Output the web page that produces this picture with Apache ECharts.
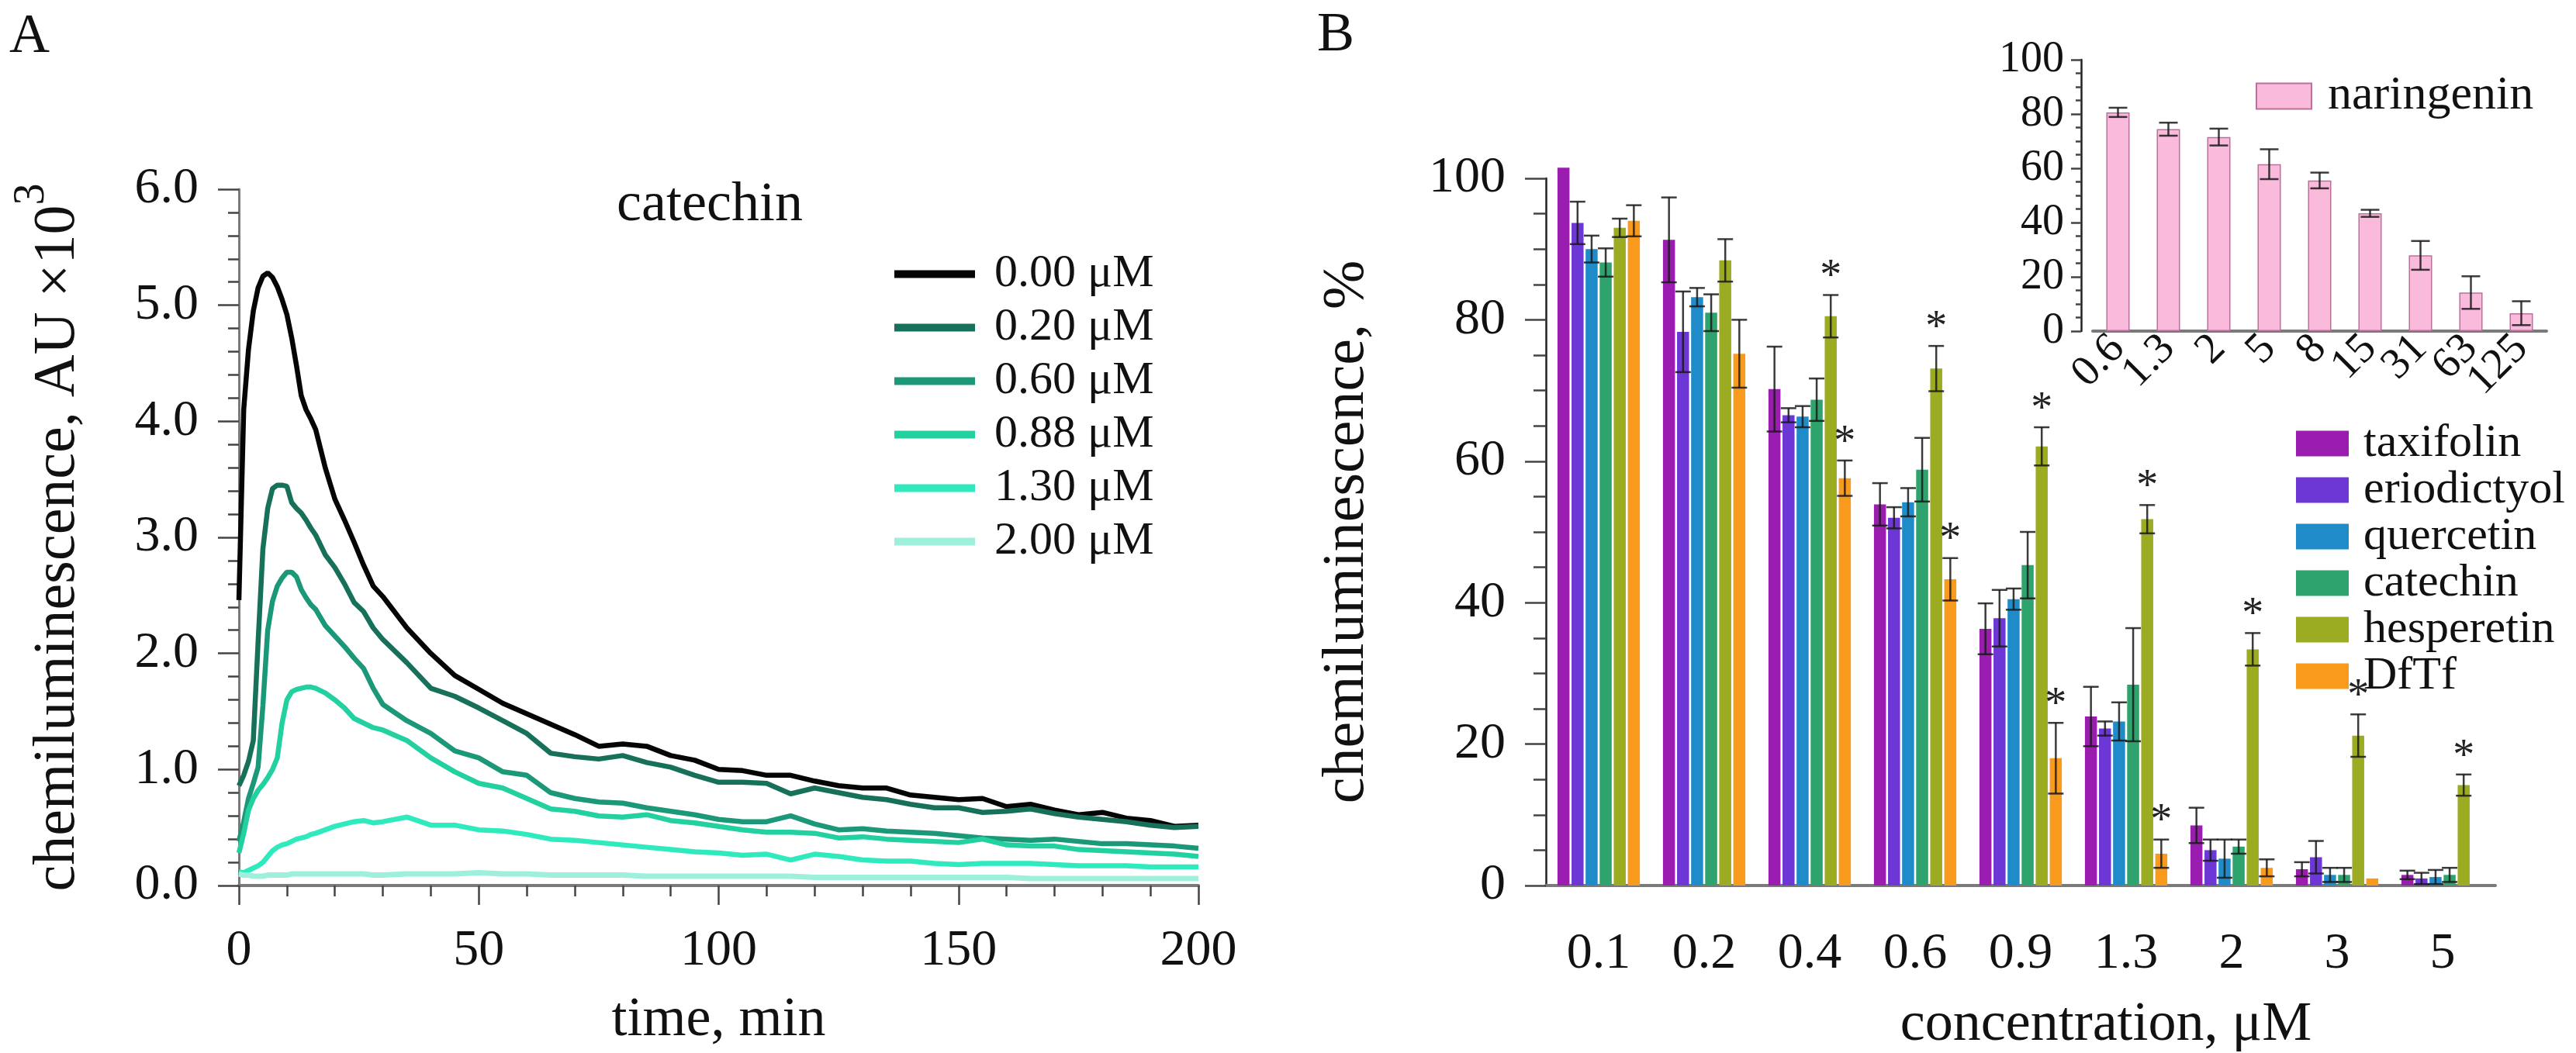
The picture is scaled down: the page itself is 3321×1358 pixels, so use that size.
<!DOCTYPE html>
<html>
<head>
<meta charset="utf-8">
<title>catechin chemiluminescence</title>
<script src="https://cdn.jsdelivr.net/npm/echarts@6/dist/echarts.min.js"></script>
<style>
  html, body { margin: 0; padding: 0; background: #fff; }
  #chart { width: 3321px; height: 1358px; }
</style>
</head>
<body>
<div id="chart"></div>
<script>
// ---- panel A: kinetics, catechin ----
const minutes = [0, 1, 2, 3, 4, 5, 6, 7, 8, 9, 10, 11, 12, 13, 14, 15, 16, 18, 20, 22, 24, 26, 28, 30,
  35, 40, 45, 50, 55, 60, 65, 70, 75, 80, 85, 90, 95, 100, 105, 110, 115, 120, 125, 130, 135, 140,
  145, 150, 155, 160, 165, 170, 175, 180, 185, 190, 195, 200];

const curveNames = ['0.00 μM', '0.20 μM', '0.60 μM', '0.88 μM', '1.30 μM', '2.00 μM'];
const curveColors = ['#050505', '#17715a', '#1a9877', '#22d0a0', '#2eeabd', '#9ef0dc'];

const curve000 = [2.46, 4.10, 4.62, 4.95, 5.15, 5.25, 5.28, 5.24, 5.16, 5.05, 4.92, 4.72, 4.48, 4.22, 4.10, 4.02, 3.93,
  3.60, 3.33, 3.15, 2.96, 2.76, 2.58, 2.49,
  2.22, 2.00, 1.81, 1.69, 1.57, 1.48, 1.39, 1.30, 1.20, 1.22, 1.20, 1.12, 1.08, 1.00, 0.99, 0.95, 0.95, 0.90,
  0.86, 0.84, 0.84, 0.78, 0.76, 0.74, 0.75, 0.68, 0.70, 0.65, 0.61, 0.63, 0.58, 0.56, 0.51, 0.52];
const curve020 = [0.86, 0.95, 1.07, 1.25, 2.10, 2.90, 3.25, 3.42, 3.45, 3.45, 3.44, 3.30, 3.25, 3.21, 3.15, 3.08, 3.02,
  2.85, 2.74, 2.60, 2.44, 2.36, 2.22, 2.12,
  1.92, 1.70, 1.63, 1.53, 1.42, 1.31, 1.14, 1.11, 1.09, 1.12, 1.06, 1.02, 0.95, 0.89, 0.89, 0.88, 0.79, 0.84,
  0.80, 0.76, 0.74, 0.70, 0.67, 0.67, 0.63, 0.64, 0.66, 0.62, 0.59, 0.57, 0.55, 0.52, 0.50, 0.51];
const curve060 = [0.38, 0.55, 0.75, 0.88, 1.02, 1.55, 2.20, 2.45, 2.58, 2.65, 2.70, 2.70, 2.66, 2.55, 2.48, 2.42, 2.38,
  2.24, 2.15, 2.06, 1.96, 1.87, 1.70, 1.56,
  1.42, 1.31, 1.16, 1.10, 0.98, 0.95, 0.80, 0.75, 0.72, 0.71, 0.67, 0.64, 0.61, 0.57, 0.55, 0.55, 0.60, 0.53,
  0.48, 0.49, 0.47, 0.46, 0.45, 0.43, 0.41, 0.40, 0.39, 0.40, 0.38, 0.36, 0.36, 0.35, 0.34, 0.32];
const curve088 = [0.28, 0.45, 0.65, 0.75, 0.82, 0.87, 0.93, 1.00, 1.10, 1.40, 1.60, 1.67, 1.69, 1.70, 1.71, 1.71, 1.70,
  1.66, 1.60, 1.53, 1.44, 1.40, 1.36, 1.34,
  1.25, 1.10, 0.98, 0.88, 0.84, 0.75, 0.66, 0.64, 0.60, 0.59, 0.61, 0.56, 0.54, 0.51, 0.48, 0.46, 0.46, 0.45,
  0.41, 0.42, 0.40, 0.39, 0.38, 0.37, 0.40, 0.35, 0.34, 0.34, 0.31, 0.30, 0.29, 0.28, 0.27, 0.25];
const curve130 = [0.12, 0.11, 0.13, 0.15, 0.17, 0.20, 0.25, 0.30, 0.33, 0.35, 0.36, 0.38, 0.40, 0.41, 0.42, 0.44, 0.45,
  0.48, 0.51, 0.53, 0.55, 0.56, 0.54, 0.55,
  0.59, 0.52, 0.52, 0.48, 0.47, 0.44, 0.40, 0.39, 0.37, 0.35, 0.33, 0.31, 0.29, 0.28, 0.26, 0.27, 0.22, 0.27,
  0.25, 0.22, 0.21, 0.21, 0.19, 0.18, 0.19, 0.19, 0.19, 0.18, 0.17, 0.17, 0.17, 0.16, 0.16, 0.16];
const curve200 = [0.10, 0.09, 0.09, 0.08, 0.08, 0.08, 0.09, 0.09, 0.09, 0.09, 0.09, 0.10, 0.10, 0.10, 0.10, 0.10, 0.10,
  0.10, 0.10, 0.10, 0.10, 0.10, 0.09, 0.09,
  0.10, 0.10, 0.10, 0.11, 0.10, 0.10, 0.09, 0.09, 0.09, 0.09, 0.08, 0.08, 0.08, 0.08, 0.08, 0.08, 0.08, 0.07,
  0.07, 0.07, 0.07, 0.07, 0.07, 0.07, 0.07, 0.07, 0.06, 0.06, 0.06, 0.06, 0.06, 0.06, 0.06, 0.06];
const curves = [curve000, curve020, curve060, curve088, curve130, curve200];

// ---- panel B: % chemiluminescence vs concentration ----
const concLabels = ['0.1', '0.2', '0.4', '0.6', '0.9', '1.3', '2', '3', '5'];
const compoundNames = ['taxifolin', 'eriodictyol', 'quercetin', 'catechin', 'hesperetin', 'DfTf'];
const compoundColors = ['#9a1db0', '#6c37d4', '#1f8bc9', '#2fa36d', '#9bab22', '#f89a1c'];

const taxifolin = [101.5, 91.3, 70.2, 53.9, 36.3, 23.9, 8.5, 2.3, 1.5];
const taxifolinErr = [0, 6, 6, 3, 3.6, 4.2, 2.5, 1, 0.6];
const eriodictyol = [93.7, 78.3, 66.5, 52.0, 37.8, 22.2, 5.0, 4.0, 1.0];
const eriodictyolErr = [3, 5.7, 1, 1.5, 4, 1, 1.5, 2.3, 0.8];
const quercetin = [90.0, 83.2, 66.3, 54.2, 40.5, 23.2, 3.8, 1.5, 1.2];
const quercetinErr = [1.9, 1.3, 1.5, 2, 1.5, 2.7, 2.7, 1, 1];
const catechin = [88.1, 81.0, 68.7, 58.8, 45.3, 28.4, 5.5, 1.5, 1.5];
const catechinErr = [2, 2.6, 3, 4.5, 4.7, 8, 1, 1, 1];
const hesperetin = [93.0, 88.4, 80.5, 73.1, 62.1, 51.8, 33.4, 21.2, 14.2];
const hesperetinErr = [1.3, 3, 3, 3.2, 2.7, 2, 2.3, 3, 1.5];
const dftf = [94.0, 75.2, 57.6, 43.3, 18.0, 4.5, 2.5, 1.0, null];
const dftfErr = [2.2, 4.8, 2.5, 3, 5, 2, 1.2, 0, 0];
const hesperetinStar = [0, 0, 1, 1, 1, 1, 1, 1, 1];
const dftfStar = [0, 0, 1, 1, 1, 1, 0, 0, 0];
const noStar = [0, 0, 0, 0, 0, 0, 0, 0, 0];

const compoundValues = [taxifolin, eriodictyol, quercetin, catechin, hesperetin, dftf];
const compoundErrs = [taxifolinErr, eriodictyolErr, quercetinErr, catechinErr, hesperetinErr, dftfErr];
const compoundStars = [noStar, noStar, noStar, noStar, hesperetinStar, dftfStar];

// ---- inset: naringenin ----
const naringeninLabels = ['0.6', '1.3', '2', '5', '8', '15', '31', '63', '125'];
const naringenin = [80.6, 74.4, 71.5, 61.5, 55.5, 43.4, 27.9, 14.2, 6.6];
const naringeninErr = [1.7, 2.4, 3.1, 5.5, 2.9, 1.3, 5.3, 6, 4.4];

const FONT = "'Liberation Serif', 'Times New Roman', 'DejaVu Serif', serif";
const INK = '#111';
const BAR_W = 15.5;
const BAR_GAP = 0.17;

const chart = echarts.init(document.getElementById('chart'));

// error bars (+ optional star) drawn through the axis scales
function errorItem(offset, capHalf, flags) {
  return function (params, api) {
    const idx = api.value(0);
    const v = api.value(1);
    const e = api.value(2);
    const top = api.coord([idx, v + e]);
    const bot = api.coord([idx, v - e]);
    const x = top[0] + offset;
    const kids = [];
    const st = { stroke: '#1a1a1a', lineWidth: 2.5, opacity: 0.85 };
    if (e > 0) {
      kids.push({ type: 'line', shape: { x1: x, y1: top[1], x2: x, y2: bot[1] }, style: st });
      kids.push({ type: 'line', shape: { x1: x - capHalf, y1: top[1], x2: x + capHalf, y2: top[1] }, style: st });
      kids.push({ type: 'line', shape: { x1: x - capHalf, y1: bot[1], x2: x + capHalf, y2: bot[1] }, style: st });
    }
    if (flags && flags[idx]) {
      kids.push({
        type: 'text', x: x, y: top[1] - 22,
        style: { text: '*', fontSize: 56, fontFamily: FONT, fill: '#222', align: 'center', verticalAlign: 'middle' }
      });
    }
    return { type: 'group', children: kids };
  };
}

const series = [];

curves.forEach((vals, k) => {
  series.push({
    name: curveNames[k],
    type: 'line',
    xAxisIndex: 0, yAxisIndex: 0,
    data: minutes.map((t, i) => [t, vals[i]]),
    showSymbol: false, symbol: 'none',
    lineStyle: { color: curveColors[k], width: k === 5 ? 7 : 6.5 },
    itemStyle: { color: curveColors[k] },
    z: 2 + k
  });
});

compoundValues.forEach((vals, k) => {
  series.push({
    name: compoundNames[k],
    type: 'bar',
    xAxisIndex: 1, yAxisIndex: 1,
    data: vals,
    barWidth: BAR_W,
    barGap: (BAR_GAP * 100) + '%',
    clip: false,
    itemStyle: { color: compoundColors[k] },
    z: 2
  });
});

const step = BAR_W * (1 + BAR_GAP);
compoundValues.forEach((vals, k) => {
  const data = [];
  vals.forEach((v, i) => { if (v !== null) data.push([i, v, compoundErrs[k][i]]); });
  series.push({
    type: 'custom',
    xAxisIndex: 1, yAxisIndex: 1,
    renderItem: errorItem((k - 2.5) * step, 10, compoundStars[k]),
    data: data,
    encode: { x: 0, y: 1 },
    silent: true,
    z: 5
  });
});

series.push({
  name: 'naringenin',
  type: 'bar',
  xAxisIndex: 2, yAxisIndex: 2,
  data: naringenin,
  barWidth: 30,
  itemStyle: { color: '#f9badc', borderColor: '#b9719a', borderWidth: 1.5 },
  z: 2
});
series.push({
  type: 'custom',
  xAxisIndex: 2, yAxisIndex: 2,
  renderItem: errorItem(0, 12, null),
  data: naringenin.map((v, i) => [i, v, naringeninErr[i]]),
  encode: { x: 0, y: 1 },
  silent: true,
  z: 5
});

const tickStyle = { color: '#444', width: 2.5 };
const labelStyle = { fontFamily: FONT, fontSize: 66, color: INK };

const option = {
  backgroundColor: '#fff',
  animation: false,
  textStyle: { fontFamily: FONT },
  grid: [
    { left: 308, top: 244, width: 1237, height: 898 },
    { left: 1993, top: 230, width: 1224, height: 912 },
    { left: 2698, top: 77, width: 585, height: 350 }
  ],
  xAxis: [
    {
      type: 'value', gridIndex: 0, min: 0, max: 200, interval: 50,
      name: 'time, min', nameLocation: 'middle', nameGap: 138,
      nameTextStyle: { fontFamily: FONT, fontSize: 72, color: INK },
      axisLine: { lineStyle: { color: '#7a7a7a', width: 4 } },
      axisTick: { length: 25, lineStyle: tickStyle },
      minorTick: { show: true, splitNumber: 5, length: 14, lineStyle: tickStyle },
      axisLabel: Object.assign({ margin: 52 }, labelStyle),
      splitLine: { show: false }
    },
    {
      type: 'category', gridIndex: 1, data: concLabels,
      axisLine: { lineStyle: { color: '#7a7a7a', width: 4 } },
      axisTick: { alignWithLabel: true, length: 25, lineStyle: tickStyle },
      axisLabel: Object.assign({ margin: 56 }, labelStyle),
      splitLine: { show: false }
    },
    {
      type: 'category', gridIndex: 2, data: naringeninLabels,
      axisLine: { lineStyle: { color: '#7a7a7a', width: 4 } },
      axisTick: { alignWithLabel: true, length: 10, lineStyle: tickStyle },
      axisLabel: { fontFamily: FONT, fontSize: 56, color: INK, rotate: 45, margin: 14, interval: 0 },
      splitLine: { show: false }
    }
  ],
  yAxis: [
    {
      type: 'value', gridIndex: 0, min: 0, max: 6, interval: 1,
      name: '{a|chemiluminescence, AU ×10}{s|3}', nameLocation: 'middle', nameGap: 195,
      nameTextStyle: {
        fontFamily: FONT, color: INK,
        rich: {
          a: { fontFamily: FONT, fontSize: 76, lineHeight: 100, verticalAlign: 'bottom', color: INK },
          s: { fontFamily: FONT, fontSize: 56, lineHeight: 56, verticalAlign: 'top', color: INK }
        }
      },
      axisLine: { show: true, lineStyle: { color: '#7a7a7a', width: 3 } },
      axisTick: { show: true, length: 27, lineStyle: tickStyle },
      minorTick: { show: true, splitNumber: 5, length: 14, lineStyle: tickStyle },
      axisLabel: Object.assign({ margin: 52, formatter: v => v.toFixed(1) }, labelStyle),
      splitLine: { show: false }
    },
    {
      type: 'value', gridIndex: 1, min: 0, max: 100, interval: 20,
      name: 'chemiluminescence, %', nameLocation: 'middle', nameGap: 218,
      nameTextStyle: { fontFamily: FONT, fontSize: 76, color: INK },
      axisLine: { show: true, lineStyle: { color: '#222', width: 2.5 } },
      axisTick: { show: true, length: 27, lineStyle: tickStyle },
      minorTick: { show: true, splitNumber: 4, length: 16, lineStyle: tickStyle },
      axisLabel: Object.assign({ margin: 52 }, labelStyle),
      splitLine: { show: false }
    },
    {
      type: 'value', gridIndex: 2, min: 0, max: 100, interval: 20, offset: 15,
      axisLine: { show: true, lineStyle: { color: '#222', width: 2.5 } },
      axisTick: { show: true, length: 13, lineStyle: tickStyle },
      minorTick: { show: true, splitNumber: 4, length: 7, lineStyle: tickStyle },
      axisLabel: { fontFamily: FONT, fontSize: 56, color: INK, margin: 22 },
      splitLine: { show: false }
    }
  ],
  legend: [
    {
      data: curveNames, orient: 'vertical', left: 1148, top: 314,
      icon: 'rect', itemWidth: 104, itemHeight: 10, itemGap: 0,
      textStyle: { fontFamily: FONT, fontSize: 60, lineHeight: 69, color: INK, padding: [0, 0, 0, 20] }
    },
    {
      data: compoundNames, orient: 'vertical', left: 2955, top: 537,
      icon: 'rect', itemWidth: 68, itemHeight: 33, itemGap: 0,
      textStyle: { fontFamily: FONT, fontSize: 60, lineHeight: 56, color: INK, padding: [0, 0, 0, 14] }
    },
    {
      data: ['naringenin'], orient: 'vertical', left: 2903, top: 88,
      icon: 'rect', itemWidth: 71, itemHeight: 33, itemGap: 0,
      textStyle: { fontFamily: FONT, fontSize: 62, lineHeight: 40, color: INK, padding: [0, 0, 0, 16] }
    }
  ],
  graphic: [
    { type: 'text', left: 12, top: 12, style: { text: 'A', fontFamily: FONT, fontSize: 72, fill: INK } },
    { type: 'text', left: 1698, top: 10, style: { text: 'B', fontFamily: FONT, fontSize: 72, fill: INK } },
    { type: 'text', x: 915, y: 265, style: { text: 'catechin', fontFamily: FONT, fontSize: 72, fill: INK, align: 'center', verticalAlign: 'middle' } },
    { type: 'text', x: 2715, y: 1322, style: { text: 'concentration, μM', fontFamily: FONT, fontSize: 72, fill: INK, align: 'center', verticalAlign: 'middle' } }
  ],
  series: series
};

chart.setOption(option);
</script>
</body>
</html>
